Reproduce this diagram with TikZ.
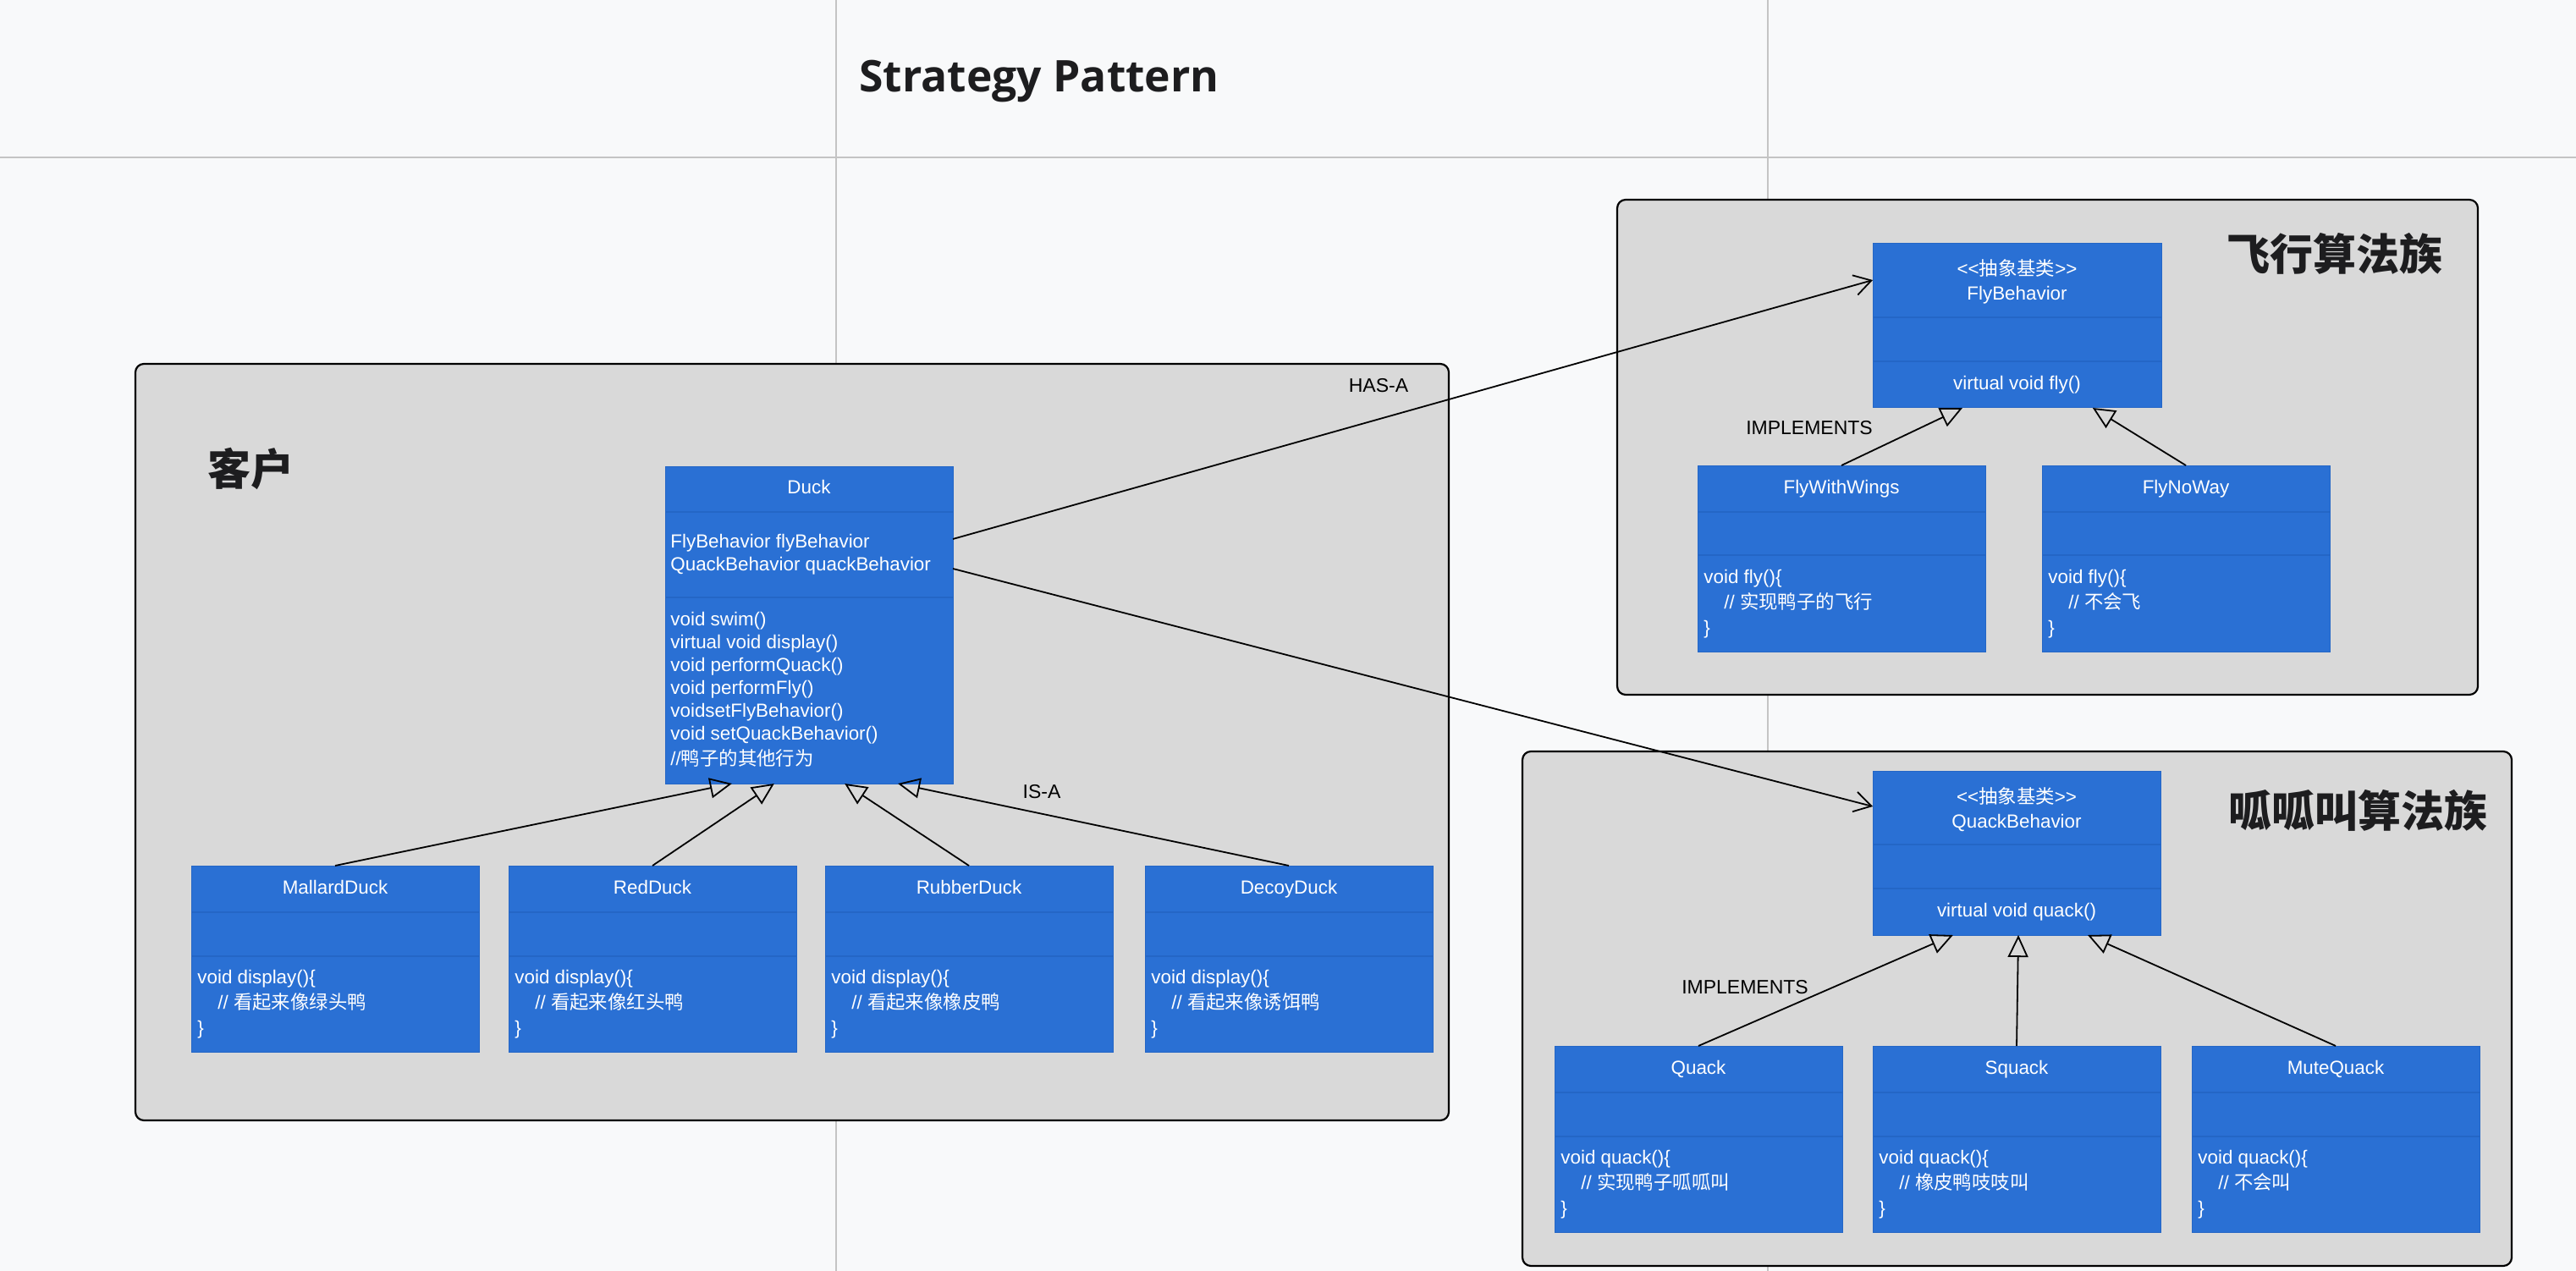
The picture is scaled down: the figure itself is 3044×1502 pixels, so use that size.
\documentclass[tikz,border=0pt]{standalone}
\usepackage{fontspec}
\setmainfont{Liberation Sans}
\newfontfamily\cjk{Noto Sans CJK SC}
\newfontfamily\titlefont{Open Sans}
\usetikzlibrary{arrows.meta,calc}

\definecolor{pagebg}{HTML}{F8F9FA}
\definecolor{gridgray}{HTML}{C4C4C4}
\definecolor{groupgray}{HTML}{D9D9D9}
\definecolor{umlblue}{HTML}{2A70D4}
\definecolor{umledge}{HTML}{2466C6}
\definecolor{titleblack}{HTML}{1D1D1F}

\tikzset{
  group/.style={draw=black, line width=1.1pt, fill=groupgray, rounded corners=5pt},
  umlbox/.style={draw=umledge, line width=0.5pt, fill=umlblue, anchor=north west, inner sep=0pt, outer sep=0pt},
  sepline/.style={draw=umledge, line width=0.9pt},
  umltext/.style={text=white, inner sep=0pt, font=\fontsize{11.2}{13.5}\selectfont},
  umlname/.style={umltext, text height=8pt, text depth=2.4pt},
  umlbody/.style={umltext, anchor=west, align=left, font=\fontsize{11.2}{15}\selectfont},
  lbl/.style={inner sep=0pt, font=\fontsize{11.5}{14}\selectfont},
  bigcn/.style={inner sep=0pt, text=titleblack, font=\cjk\bfseries\fontsize{25.5}{30}\selectfont},
  isa/.style={line width=0.9pt, -{Triangle[open, length=13pt, width=12pt]}},
  hasa/.style={line width=0.9pt, -{Straight Barb[length=10pt, width=12pt]}},
}

\begin{document}
\begin{tikzpicture}[x=0.5pt, y=-0.5pt]
    \useasboundingbox (0,0) rectangle (3044,1502);
    \fill[pagebg] (0,0) rectangle (3044,1502);

    \draw[gridgray, line width=1pt] (988,0) -- (988,1502);
    \draw[gridgray, line width=1pt] (2089,0) -- (2089,1502);
    \draw[gridgray, line width=1pt] (0,186) -- (3044,186);

    \node[anchor=base west, inner sep=0pt, text=titleblack, font=\titlefont\bfseries\fontsize{25.8}{30}\selectfont] (title) at (1015,109) {Strategy Pattern};

    \draw[group] (160,430) rectangle (1712,1324);
    \draw[group] (1911,236) rectangle (2928,821);
    \draw[group] (1799,888) rectangle (2968,1496);

    \node[bigcn] (client) at (296,554) {客户};
    \node[bigcn] (flyfam) at (2759,300) {飞行算法族};
    \node[bigcn] (quackfam) at (2786,958) {呱呱叫算法族};

    \node[umlbox, minimum width=170pt, minimum height=187.5pt] (duck) at (786,551) {};
    \draw[sepline] ($(duck.north west)+(0,54)$) -- ($(duck.north east)+(0,54)$);
    \draw[sepline] ($(duck.north west)+(0,155)$) -- ($(duck.north east)+(0,155)$);
    \node[umlname] (duck-name) at ($(duck.north)+(0,27)$) {Duck};
    \node[umltext, anchor=west, align=left] (duck-attr) at ($(duck.north west)+(6,104)$) {FlyBehavior flyBehavior\\QuackBehavior quackBehavior};
    \node[umltext, anchor=west, align=left] (duck-ops) at ($(duck.north west)+(6,264)$) {void swim()\\virtual void display()\\void performQuack()\\void performFly()\\voidsetFlyBehavior()\\void setQuackBehavior()\\[1.5pt]//{\cjk 鸭子的其他行为}};

    \foreach \nm/\xx/\cls/\cmt in {mallard/226/MallardDuck/绿头鸭, red/601/RedDuck/红头鸭, rubber/975/RubberDuck/橡皮鸭, decoy/1353/DecoyDuck/诱饵鸭}{
        \node[umlbox, minimum width=170pt, minimum height=110pt] (\nm) at (\xx,1023) {};
        \draw[sepline] ($(\nm.north west)+(0,55)$) -- ($(\nm.north east)+(0,55)$);
        \draw[sepline] ($(\nm.north west)+(0,107)$) -- ($(\nm.north east)+(0,107)$);
        \node[umlname] (\nm-name) at ($(\nm.north)+(0,28)$) {\cls};
        \node[umlbody] (\nm-ops) at ($(\nm.north west)+(7,164)$) {void display()\{\\\hspace*{12pt}// {\cjk 看起来像\cmt}\\\}};
    }

    \node[umlbox, minimum width=170.5pt, minimum height=97pt] (flybeh) at (2213,288) {};
    \draw[sepline] ($(flybeh.north west)+(0,87)$) -- ($(flybeh.north east)+(0,87)$);
    \draw[sepline] ($(flybeh.north west)+(0,139)$) -- ($(flybeh.north east)+(0,139)$);
    \node[umltext, align=center, font=\fontsize{11.2}{14.5}\selectfont] (flybeh-name) at ($(flybeh.north)+(0,45)$) {<\kern0pt<{\cjk 抽象基类}>\kern0pt>\\FlyBehavior};
    \node[umlname] (flybeh-ops) at ($(flybeh.north)+(0,167)$) {virtual void fly()};

    \foreach \nm/\xx/\cls/\cmt in {flywings/2006/FlyWithWings/实现鸭子的飞行, flynoway/2413/FlyNoWay/不会飞}{
        \node[umlbox, minimum width=170pt, minimum height=110pt] (\nm) at (\xx,550) {};
        \draw[sepline] ($(\nm.north west)+(0,55)$) -- ($(\nm.north east)+(0,55)$);
        \draw[sepline] ($(\nm.north west)+(0,106)$) -- ($(\nm.north east)+(0,106)$);
        \node[umlname] (\nm-name) at ($(\nm.north)+(0,28)$) {\cls};
        \node[umlbody] (\nm-ops) at ($(\nm.north west)+(7,164)$) {void fly()\{\\\hspace*{12pt}// {\cjk \cmt}\\\}};
    }

    \node[umlbox, minimum width=170pt, minimum height=97pt] (quackbeh) at (2213,911) {};
    \draw[sepline] ($(quackbeh.north west)+(0,87)$) -- ($(quackbeh.north east)+(0,87)$);
    \draw[sepline] ($(quackbeh.north west)+(0,139)$) -- ($(quackbeh.north east)+(0,139)$);
    \node[umltext, align=center, font=\fontsize{11.2}{14.5}\selectfont] (quackbeh-name) at ($(quackbeh.north)+(0,46)$) {<\kern0pt<{\cjk 抽象基类}>\kern0pt>\\QuackBehavior};
    \node[umlname] (quackbeh-ops) at ($(quackbeh.north)+(0,167)$) {virtual void quack()};

    \foreach \nm/\xx/\cls/\cmt in {quack/1837/Quack/实现鸭子呱呱叫, squack/2213/Squack/橡皮鸭吱吱叫, mutequack/2590/MuteQuack/不会叫}{
        \node[umlbox, minimum width=170pt, minimum height=110pt] (\nm) at (\xx,1236) {};
        \draw[sepline] ($(\nm.north west)+(0,55)$) -- ($(\nm.north east)+(0,55)$);
        \draw[sepline] ($(\nm.north west)+(0,107)$) -- ($(\nm.north east)+(0,107)$);
        \node[umlname] (\nm-name) at ($(\nm.north)+(0,28)$) {\cls};
        \node[umlbody] (\nm-ops) at ($(\nm.north west)+(7,164)$) {void quack()\{\\\hspace*{12pt}// {\cjk \cmt}\\\}};
    }

    \node[lbl] (hasa) at (1629,456) {HAS-A};
    \node[lbl] (isa) at (1231,936) {IS-A};
    \node[lbl] (flyimpl) at (2138,506) {IMPLEMENTS};
    \node[lbl] (quackimpl) at (2062,1167) {IMPLEMENTS};

    \draw[isa] (mallard.north) -- ($(duck.south west)!0.232!(duck.south east)$);
    \draw[isa] (red.north) -- ($(duck.south west)!0.379!(duck.south east)$);
    \draw[isa] (rubber.north) -- ($(duck.south west)!0.624!(duck.south east)$);
    \draw[isa] (decoy.north) -- ($(duck.south west)!0.809!(duck.south east)$);

    \draw[isa] (flywings.north) -- ($(flybeh.south west)!0.311!(flybeh.south east)$);
    \draw[isa] (flynoway.north) -- ($(flybeh.south west)!0.762!(flybeh.south east)$);

    \draw[isa] (quack.north) -- ($(quackbeh.south west)!0.279!(quackbeh.south east)$);
    \draw[isa] (squack.north) -- ($(quackbeh.south west)!0.506!(quackbeh.south east)$);
    \draw[isa] (mutequack.north) -- ($(quackbeh.south west)!0.747!(quackbeh.south east)$);

    \draw[hasa] ($(duck.north east)+(0,86)$) -- ($(flybeh.north west)+(0,43)$);
    \draw[hasa] ($(duck.north east)+(0,121)$) -- ($(quackbeh.north west)+(0,42)$);
\end{tikzpicture}
\end{document}
